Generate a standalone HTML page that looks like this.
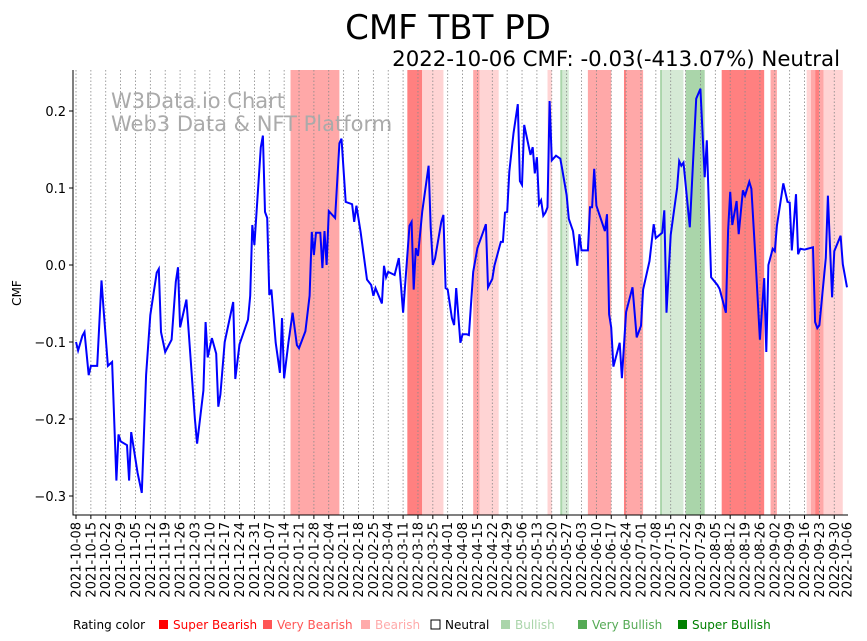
<!DOCTYPE html>
<html><head><meta charset="utf-8"><style>
body{margin:0;background:#fff;}
svg{display:block;font-family:"DejaVu Sans","Liberation Sans",sans-serif;}
</style></head><body>
<svg id="chart" width="867" height="641">
<text x="448" y="39" text-anchor="middle" font-size="34">CMF TBT PD</text>
<text x="840" y="66" text-anchor="end" font-size="21.3">2022-10-06 CMF: -0.03(-413.07%) Neutral</text>
<g id="bands"></g>
<g id="grid"></g>
<text x="111" y="108" font-size="21" fill="#aaa">W3Data.io Chart</text>
<text x="111" y="131" font-size="21" fill="#aaa">Web3 Data &amp; NFT Platform</text>
<path id="line" fill="none" stroke="#0000ff" stroke-width="2"/>
<g id="axes"></g>
<text transform="translate(21,293) rotate(-90)" text-anchor="middle" font-size="12">CMF</text>
<g id="legend" font-size="12">
<text x="73" y="629">Rating color</text>
<rect x="159" y="620" width="9" height="9" fill="#ff0000"/>
<text x="173" y="629" fill="#ff0000">Super Bearish</text>
<rect x="263" y="620" width="9" height="9" fill="#ff5555"/>
<text x="277" y="629" fill="#ff5555">Very Bearish</text>
<rect x="361" y="620" width="9" height="9" fill="#ffaaaa"/>
<text x="375" y="629" fill="#ffaaaa">Bearish</text>
<rect x="431" y="620" width="9" height="9" fill="#fff" stroke="#000"/>
<text x="445" y="629" fill="#000">Neutral</text>
<rect x="501" y="620" width="9" height="9" fill="#aad5aa"/>
<text x="515" y="629" fill="#aad5aa">Bullish</text>
<rect x="578" y="620" width="9" height="9" fill="#55aa55"/>
<text x="592" y="629" fill="#55aa55">Very Bullish</text>
<rect x="678" y="620" width="9" height="9" fill="#008000"/>
<text x="692" y="629" fill="#008000">Super Bullish</text>
</g>
</svg>
<script>
const startDate = "2021-10-08";
const days = [0,1,3,4,6,7,10,12,13,15,17,19,20,21,24,25,26,29,31,33,35,38,39,40,42,45,47,48,49,52,56,57,60,61,62,64,66,67,68,70,74,75,77,81,82,83,84,87,88,89,90,91,92,94,96,97,98,100,102,104,105,108,110,111,112,113,115,116,117,118,119,122,124,125,127,130,131,132,134,137,139,140,141,144,145,146,147,150,152,154,157,158,159,160,161,163,166,167,168,169,172,173,174,175,177,178,179,181,182,184,185,187,189,193,194,196,197,200,201,202,203,204,206,208,209,210,211,214,215,216,217,218,219,220,221,222,223,224,226,228,229,231,232,234,236,237,238,241,242,243,244,245,249,250,251,252,253,256,257,259,262,264,266,267,270,272,273,276,277,278,280,283,284,285,286,289,292,294,296,297,299,302,303,306,307,308,309,311,312,314,315,317,318,320,322,324,325,326,328,329,330,333,335,336,337,339,340,341,343,347,348,349,350,353,354,356,357,360,361,363];
const cmfValues = [-0.100,-0.111,-0.092,-0.087,-0.143,-0.131,-0.131,-0.020,-0.058,-0.131,-0.126,-0.280,-0.220,-0.229,-0.234,-0.280,-0.217,-0.270,-0.296,-0.143,-0.065,-0.010,-0.005,-0.087,-0.113,-0.097,-0.022,-0.003,-0.081,-0.045,-0.200,-0.232,-0.163,-0.074,-0.120,-0.095,-0.115,-0.184,-0.168,-0.100,-0.048,-0.148,-0.103,-0.071,-0.040,0.052,0.026,0.153,0.168,0.069,0.061,-0.039,-0.032,-0.101,-0.140,-0.069,-0.147,-0.101,-0.062,-0.104,-0.108,-0.086,-0.040,0.043,0.013,0.042,0.042,-0.004,0.044,0.000,0.070,0.061,0.158,0.164,0.082,0.079,0.056,0.077,0.043,-0.019,-0.026,-0.040,-0.030,-0.050,-0.001,-0.016,-0.009,-0.013,0.009,-0.062,0.051,0.056,-0.032,0.022,0.012,0.069,0.129,0.049,0.000,0.008,0.056,0.065,-0.030,-0.032,-0.069,-0.078,-0.030,-0.101,-0.090,-0.090,-0.091,-0.009,0.022,0.053,-0.029,-0.018,-0.001,0.030,0.030,0.068,0.069,0.121,0.171,0.209,0.109,0.104,0.182,0.143,0.153,0.119,0.140,0.079,0.084,0.064,0.068,0.075,0.213,0.136,0.142,0.138,0.123,0.091,0.060,0.044,-0.001,0.040,0.019,0.019,0.075,0.075,0.125,0.077,0.044,0.066,-0.064,-0.081,-0.132,-0.101,-0.147,-0.061,-0.029,-0.094,-0.079,-0.032,0.005,0.053,0.035,0.042,0.071,-0.062,0.039,0.100,0.135,0.129,0.133,0.049,0.216,0.229,0.114,0.162,-0.016,-0.026,-0.031,-0.062,0.045,0.095,0.052,0.083,0.040,0.097,0.090,0.108,0.099,0.003,-0.097,-0.017,-0.113,0.000,0.021,0.018,0.051,0.106,0.082,0.081,0.019,0.092,0.014,0.021,0.020,0.023,-0.074,-0.082,-0.078,0.009,0.090,-0.042,0.018,0.038,0.001,-0.029];
const bandStarts = [101,156,163,187,190,222,228,229,241,258,259,275,276,287,304,327,344,346,348,350,352];
const bandEnds   = [124,163,173,190,199,224,229,232,252,259,267,276,286,296,324,330,346,348,350,352,361];
const bandRatings = ["vbear","sbear","bear","vbear","bear","bear","vbull","bull","vbear","sbear","vbear","vbull","bull","vbull","sbear","vbear","bear","vbear","sbear","vbear","bear"];
const yTicks = [0.2,0.1,0.0,-0.1,-0.2,-0.3];
const yTickLabels = ["0.2","0.1","0.0","−0.1","−0.2","−0.3"];

const ns = "http://www.w3.org/2000/svg";
const L=73, R=848, T=70, B=515, totalDays=363;
const X0=76, X1=847;
function xScale(d){return X0 + d*(X1-X0)/totalDays;}
function yScale(v){return 265 - v*770;}
const bandColors={sbear:"#ff8080",vbear:"#ffa8a8",bear:"#ffd4d4",bull:"#d5ead5",vbull:"#aad5aa"};

const bandsG=document.getElementById('bands');
for(let i=0;i<bandStarts.length;i++){
  const r=document.createElementNS(ns,'rect');
  r.setAttribute('x',xScale(bandStarts[i]));
  r.setAttribute('width',Math.max(1,xScale(bandEnds[i])-xScale(bandStarts[i])));
  r.setAttribute('y',T);r.setAttribute('height',B-T);
  r.setAttribute('fill',bandColors[bandRatings[i]]);
  
  
  bandsG.appendChild(r);
}

const gridG=document.getElementById('grid');
const axesG=document.getElementById('axes');
const sd=new Date(startDate+"T00:00:00Z");
for(let w=0;w*7<=totalDays;w++){
  const x=xScale(w*7);
  const g=document.createElementNS(ns,'line');
  g.setAttribute('x1',x);g.setAttribute('x2',x);g.setAttribute('y1',T);g.setAttribute('y2',B);
  g.setAttribute('stroke','#888');g.setAttribute('stroke-width','0.8');g.setAttribute('stroke-dasharray','1.5,2');
  
  
  gridG.appendChild(g);
  const t=document.createElementNS(ns,'line');
  t.setAttribute('x1',x);t.setAttribute('x2',x);t.setAttribute('y1',B);t.setAttribute('y2',B+4);
  t.setAttribute('stroke','#000');
  
  
  axesG.appendChild(t);
  const dt=new Date(sd.getTime()+w*7*86400000);
  const lbl=dt.toISOString().slice(0,10);
  const tx=document.createElementNS(ns,'text');
  tx.setAttribute('transform','translate('+(x+4.5)+','+(B+7)+') rotate(-90)');
  tx.setAttribute('text-anchor','end');tx.setAttribute('font-size','13');
  tx.textContent=lbl;
  
  
  axesG.appendChild(tx);
}
{
  const x=xScale(totalDays);
  const tx=document.createElementNS(ns,'text');
  tx.setAttribute('transform','translate('+(x+4.5)+','+(B+7)+') rotate(-90)');
  tx.setAttribute('text-anchor','end');tx.setAttribute('font-size','13');
  tx.textContent="2022-10-06";
  
  
  axesG.appendChild(tx);
}
for(let i=0;i<yTicks.length;i++){
  const y=yScale(yTicks[i]);
  const t=document.createElementNS(ns,'line');
  t.setAttribute('x1',L-4);t.setAttribute('x2',L);t.setAttribute('y1',y);t.setAttribute('y2',y);
  t.setAttribute('stroke','#000');
  
  
  axesG.appendChild(t);
  const tx=document.createElementNS(ns,'text');
  tx.setAttribute('x',L-7);tx.setAttribute('y',y+5);tx.setAttribute('text-anchor','end');tx.setAttribute('font-size','13');
  tx.textContent=yTickLabels[i];
  
  
  axesG.appendChild(tx);
}
const sp=document.createElementNS(ns,'path');
sp.setAttribute('d','M'+L+','+T+'V'+B+'H'+R);
sp.setAttribute('fill','none');sp.setAttribute('stroke','#000');sp.setAttribute('stroke-width','1');


axesG.appendChild(sp);

let d="";
for(let i=0;i<days.length;i++){d+=(i?"L":"M")+xScale(days[i]).toFixed(1)+","+yScale(cmfValues[i]).toFixed(1);}
document.getElementById('line').setAttribute('d',d);
</script>
</body></html>
